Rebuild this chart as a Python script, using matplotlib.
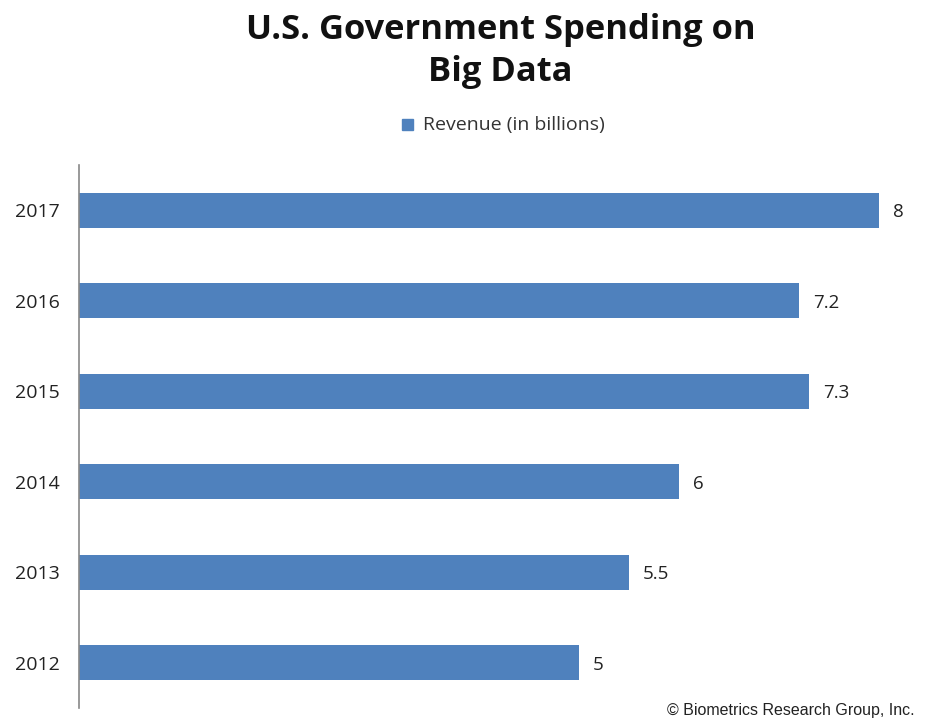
import matplotlib
matplotlib.use("Agg")
import matplotlib.pyplot as plt
from matplotlib.patches import Rectangle

years = ["2012", "2013", "2014", "2015", "2016", "2017"]
revenue = [5, 5.5, 6, 7.3, 7.2, 8]
value_labels = ["5", "5.5", "6", "7.3", "7.2", "8"]
series_name = "Revenue (in billions)"
title = "U.S. Government Spending on\nBig Data"
credit = "© Biometrics Research Group, Inc."

W, H = 929, 719
fig = plt.figure(figsize=(W / 100, H / 100), dpi=100)
fig.patch.set_facecolor("white")

left, right, top, bottom = 79, 929, 165, 708
ax = fig.add_axes([left / W, (H - bottom) / H, (right - left) / W, (bottom - top) / H])

color = "#4F81BD"
ypos = list(range(len(years)))
ax.barh(ypos, revenue, height=0.39, color=color, zorder=2)
ax.set_ylim(-0.5, len(years) - 0.5)
ax.set_xlim(0, (right - left) / 100)

for y, v, lab in zip(ypos, revenue, value_labels):
    ax.annotate(lab, (v, y), xytext=(14, -2), textcoords="offset pixels",
                va="center", ha="left", fontsize=13.5, family="Open Sans", color="#222222")

ax.set_yticks(ypos)
ax.set_yticklabels(years, fontsize=14, family="Open Sans", color="#222222")
ax.tick_params(axis="y", length=0, pad=14)
ax.set_xticks([])
for s in ["top", "right", "bottom"]:
    ax.spines[s].set_visible(False)
ax.spines["left"].set_color("#888888")
ax.spines["left"].set_linewidth(1.2)

fig.text(0.539, 1 - 51 / H, title, ha="center", va="center", fontsize=24.8,
         fontweight="bold", family="Open Sans", color="#111111", linespacing=1.3)

# legend
fig.patches.append(Rectangle((402 / W, 1 - 130 / H), 11 / W, 11 / H, transform=fig.transFigure,
                             color=color, figure=fig))
fig.text(423 / W, 1 - 125 / H, series_name, ha="left", va="center", fontsize=14,
         family="Open Sans", color="#333333")

fig.text(915 / W, 1 - 710 / H, credit, ha="right", va="center", fontsize=11.5,
         family="Liberation Sans", color="#222222")

fig.savefig("out.png", dpi=100, facecolor="white")
